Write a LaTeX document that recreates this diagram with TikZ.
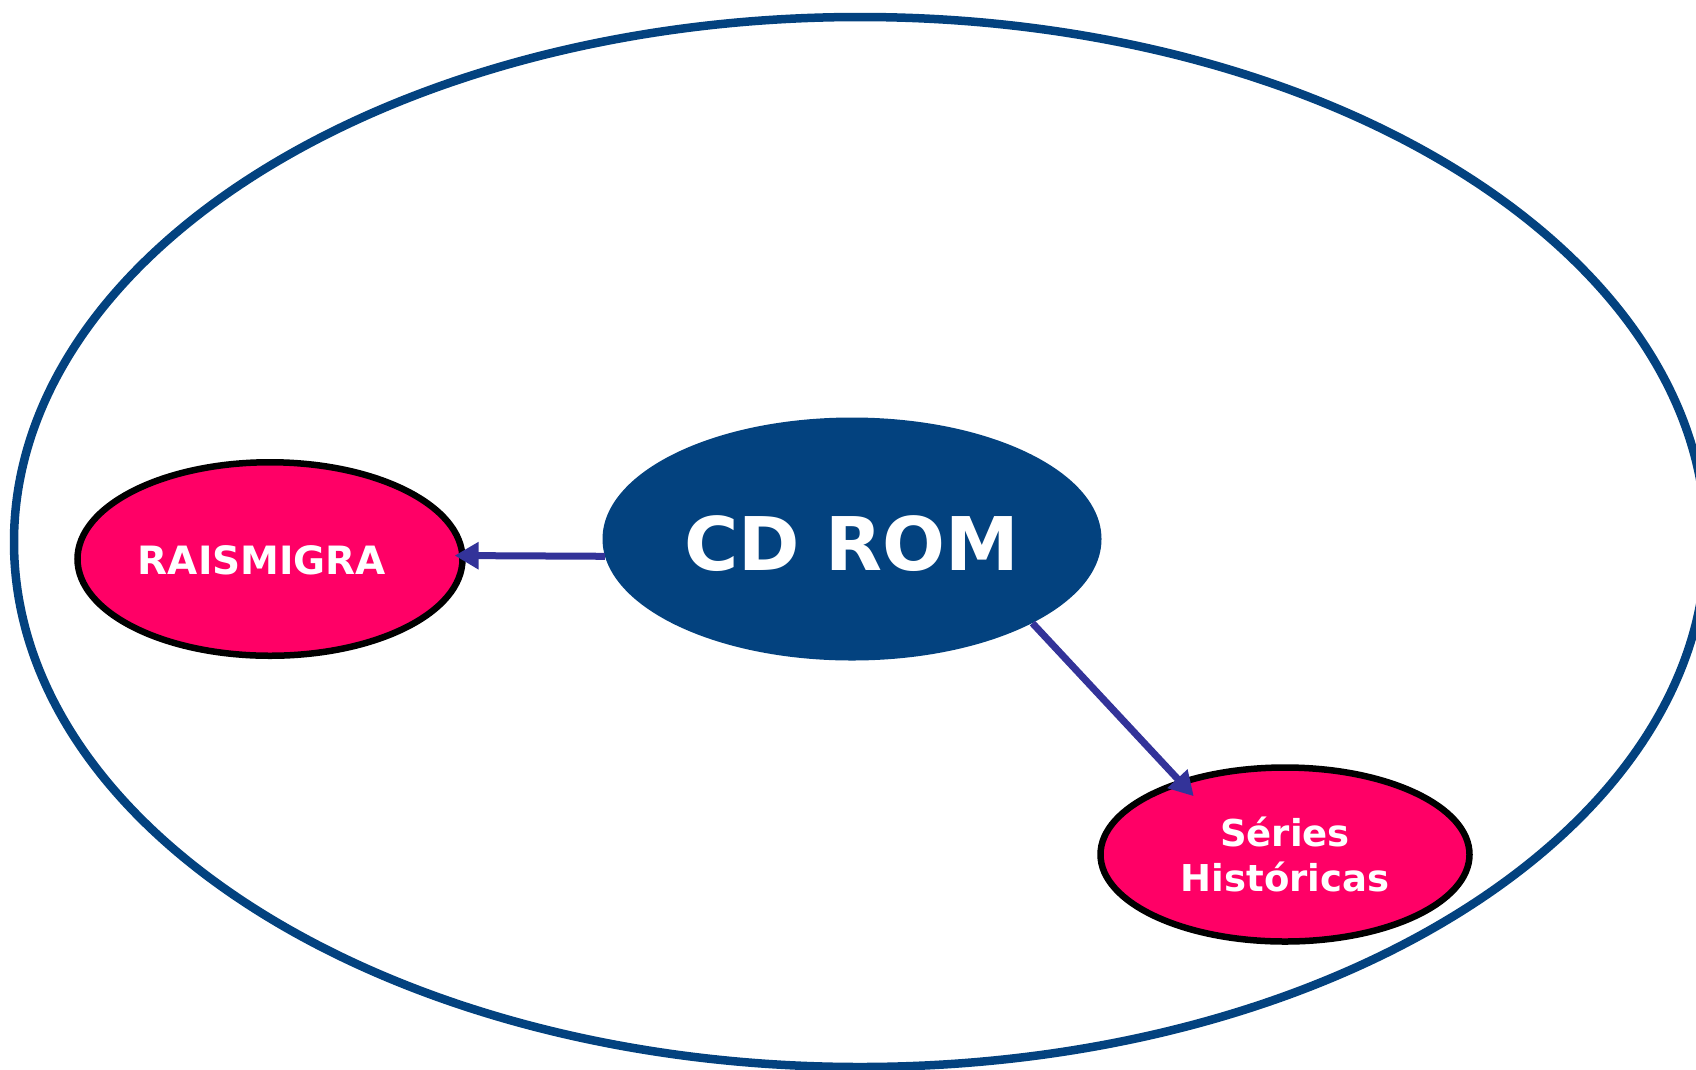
\documentclass[tikz,border=0pt]{standalone}
\usepackage{fontspec}
\setmainfont{DejaVu Sans}
\usetikzlibrary{arrows.meta,shapes.geometric}
\definecolor{navy}{HTML}{03427F}
\definecolor{hotpink}{HTML}{FF0066}
\definecolor{arrowblue}{HTML}{333399}
\tikzset{
  outerring/.style={draw=navy, line width=8.5pt},
  hub/.style={ellipse, fill=navy, inner sep=0pt, minimum width=499pt, minimum height=243pt, text=white, font=\bfseries\fontsize{74}{80}\selectfont, text height=63pt, text depth=0pt},
  leaf/.style={ellipse, draw=black, line width=6.5pt, fill=hotpink, inner sep=0pt, text=white, align=center},
  link/.style={draw=arrowblue, line width=7pt, -{Triangle[length=24pt,width=26pt]}}
}
\begin{document}
\begin{tikzpicture}[x=1pt,y=-1pt]
\useasboundingbox (0,0) rectangle (1696,1069);
\clip (0,0) rectangle (1696,1069);
\draw[outerring] (860,542) ellipse [x radius=846, y radius=525];
\node[leaf, minimum width=385pt, minimum height=193.5pt, font=\bfseries\fontsize{39}{46}\selectfont, text height=30.4pt, text depth=0pt] (rais) at (270,559) {RAISMIGRA\hspace*{16pt}};
\node[leaf, minimum width=369pt, minimum height=174pt, font=\bfseries\fontsize{37}{45}\selectfont] (ser) at (1285,854.5) {Séries\\Históricas};
\node[hub] (cd) at (852,539) {CD ROM};
\draw[link, shorten >=-11pt] (cd.184.6) -- (rais.1);
\draw[link, shorten >=-22pt] (cd.335) -- (ser.145);
\end{tikzpicture}
\end{document}
